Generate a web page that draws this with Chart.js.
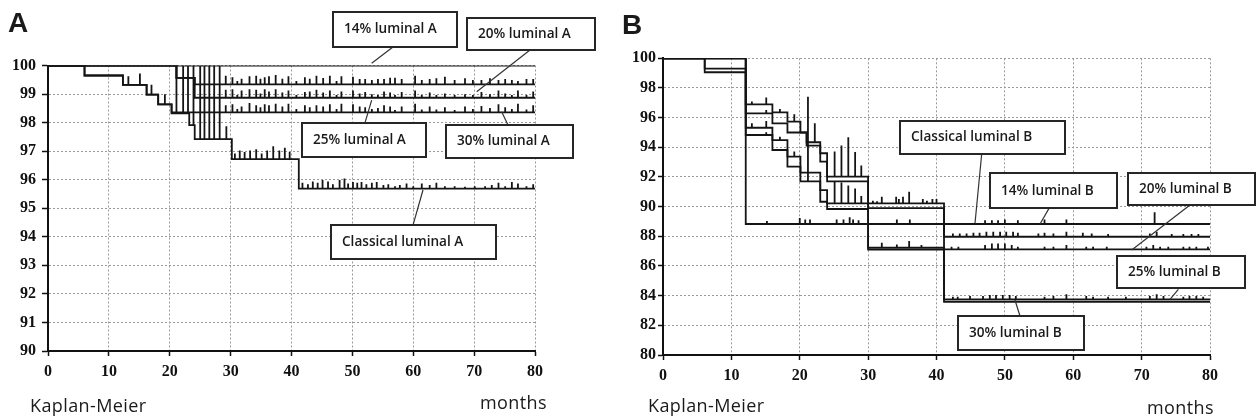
<!DOCTYPE html>
<html>
<head>
<meta charset="utf-8">
<script src="https://cdn.jsdelivr.net/npm/chart.js@4.4.1/dist/chart.umd.min.js"></script>
<style>
  html, body { margin: 0; padding: 0; background: #fff; }
  body { width: 1260px; height: 420px; position: relative; overflow: hidden; font-family: "Open Sans", sans-serif; }
  .panel { position: absolute; top: 0; height: 420px; }
  #wrapA { left: 0; width: 620px; }
  #wrapB { left: 620px; width: 640px; }
  .lbl { position: absolute; color: #1a1a1a; white-space: nowrap; }
  .big { font: bold 28px "Liberation Sans", Arial, sans-serif; line-height: 28px; }
  .foot { font-size: 18px; line-height: 18px; letter-spacing: 0.4px; }
</style>
</head>
<body>
<div class="panel" id="wrapA"><canvas id="chartA" width="620" height="420"></canvas></div>
<div class="panel" id="wrapB"><canvas id="chartB" width="640" height="420"></canvas></div>
<div class="lbl big" style="left:8px;top:9px">A</div>
<div class="lbl big" style="left:622px;top:11px">B</div>
<div class="lbl foot" style="left:30px;top:396px">Kaplan-Meier</div>
<div class="lbl foot" style="left:480px;top:393px">months</div>
<div class="lbl foot" style="left:648px;top:396px">Kaplan-Meier</div>
<div class="lbl foot" style="left:1147px;top:398px">months</div>
<script>
// axes
const monthTicks = [0, 10, 20, 30, 40, 50, 60, 70, 80];
const yTicksA = [90, 91, 92, 93, 94, 95, 96, 97, 98, 99, 100];
const yTicksB = [80, 82, 84, 86, 88, 90, 92, 94, 96, 98, 100];

// ---- panel A: luminal A ----
const seriesA = ["14% luminal A", "20% luminal A", "25% luminal A", "30% luminal A", "Classical luminal A"];
// drop times (months) and survival (%) after each drop
const a14Times = [], a14Surv = [];
const a20Times = [21.1, 24.1], a20Surv = [99.57, 99.34];
const a25Times = [21.1, 24.1], a25Surv = [99.57, 98.87];
const a30Times = [6.0, 12.3, 16.2, 18.1, 20.3], a30Surv = [99.65, 99.32, 98.98, 98.64, 98.36];
const aClTimes = [6.0, 12.3, 16.2, 18.1, 20.3, 23.2, 24.1, 30.2, 41.2];
const aClSurv = [99.65, 99.32, 98.98, 98.64, 98.32, 97.91, 97.42, 96.72, 95.69];

// censored cases (months) and tick heights (% units)
const aUpperCens = [29.2, 30.3, 31.1, 31.8, 33.1, 34.2, 34.9, 35.6, 36.3, 37.4, 38.5, 39.5, 40.8, 42.2, 43.0,
  44.1, 45.2, 46.3, 47.4, 48.2, 50.1, 51.2, 52.1, 53.2, 54.2, 55.2, 56.2, 57.0, 58.1, 60.3, 61.4, 62.7, 63.8,
  65.2, 66.8, 68.5, 69.8, 71.2, 72.6, 74.0, 75.1, 76.2, 77.2, 78.6, 79.7];
const a20H = [0.3, 0.25, 0.12, 0.2, 0.28, 0.3, 0.2, 0.25, 0.28, 0.33, 0.2, 0.28, 0.12, 0.25, 0.2, 0.3, 0.22,
  0.3, 0.12, 0.28, 0.27, 0.19, 0.19, 0.15, 0.19, 0.19, 0.23, 0.23, 0.19, 0.3, 0.15, 0.19, 0.21, 0.27, 0.15,
  0.21, 0.15, 0.15, 0.21, 0.15, 0.19, 0.15, 0.12, 0.19, 0.19];
const a25H = [0.28, 0.3, 0.1, 0.25, 0.3, 0.28, 0.15, 0.3, 0.22, 0.3, 0.18, 0.25, 0.1, 0.2, 0.22, 0.28, 0.18,
  0.25, 0.1, 0.22, 0.25, 0.15, 0.2, 0.12, 0.1, 0.22, 0.18, 0.1, 0.2, 0.25, 0.1, 0.18, 0.1, 0.15, 0.1, 0.12,
  0.1, 0.2, 0.12, 0.25, 0.15, 0.1, 0.25, 0.1, 0.22];
const a30H = [0.25, 0.28, 0.12, 0.2, 0.33, 0.25, 0.18, 0.28, 0.25, 0.3, 0.2, 0.3, 0.12, 0.25, 0.18, 0.25,
  0.2, 0.28, 0.12, 0.3, 0.28, 0.2, 0.18, 0.12, 0.15, 0.25, 0.2, 0.08, 0.2, 0.3, 0.1, 0.2, 0.1, 0.18, 0.08,
  0.2, 0.12, 0.22, 0.15, 0.28, 0.18, 0.12, 0.3, 0.1, 0.25];
const aClCens = [13.2, 15.1, 17.0, 19.2, 21.1, 22.2, 23.0, 23.9, 25.0, 25.7, 26.5, 27.3, 28.2, 29.3,
  30.7, 31.5, 32.3, 33.2, 34.2, 35.1, 36.0, 37.0, 38.0, 38.9, 39.7,
  41.8, 42.7, 43.5, 44.3, 45.1, 46.0, 46.8, 47.9, 48.7,
  49.3, 50.1, 50.8, 51.5, 52.3, 53.2, 54.0, 55.1, 55.9, 57.0, 57.8, 58.9, 60.0, 61.4, 62.7, 63.8, 65.2,
  66.8, 68.5, 70.1, 71.8, 72.9, 74.0, 75.1, 76.2, 77.2, 78.6, 79.7];
const aClH = [0.3, 0.4, 0.35, 0.35, 1.68, 1.68, 1.68, 2.09, 2.58, 2.58, 2.58, 2.58, 2.58, 0.45,
  0.2, 0.3, 0.25, 0.3, 0.35, 0.2, 0.3, 0.45, 0.3, 0.4, 0.25,
  0.2, 0.15, 0.25, 0.2, 0.3, 0.25, 0.15, 0.3, 0.35,
  0.18, 0.23, 0.2, 0.23, 0.15, 0.2, 0.23, 0.12, 0.15, 0.08, 0.12, 0.18, 0.08, 0.18, 0.12, 0.2, 0.08,
  0.08, 0.06, 0.08, 0.08, 0.12, 0.2, 0.08, 0.23, 0.18, 0.08, 0.15];

// ---- panel B: luminal B ----
const seriesB = ["14% luminal B", "20% luminal B", "25% luminal B", "30% luminal B", "Classical luminal B"];
const b14Times = [12.1, 16.0, 18.2, 20.1, 21.0, 23.0, 24.0, 30.0, 41.1];
const b14Surv = [96.9, 96.36, 95.73, 95.0, 94.34, 93.6, 92.02, 90.22, 87.97];
const b20Times = [12.1, 16.0, 18.2, 21.0, 23.0, 24.0, 30.0, 41.1];
const b20Surv = [96.29, 95.61, 95.0, 94.11, 93.03, 91.7, 89.9, 87.12];
const b25Times = [6.1, 12.1, 16.0, 18.2, 20.1, 23.0, 24.0, 30.0, 41.1];
const b25Surv = [99.3, 95.32, 94.49, 93.37, 92.3, 91.12, 90.22, 87.23, 83.75];
const b30Times = [6.1, 12.1, 16.0, 18.2, 20.1, 23.0, 24.0, 30.0, 41.1];
const b30Surv = [99.06, 94.83, 93.82, 92.7, 91.7, 90.33, 89.84, 87.1, 83.59];
const bClTimes = [12.1], bClSurv = [88.83];

const b14Cens = [13.0, 15.1, 17.1, 19.2, 22.2, 25.1, 26.1, 27.1, 28.1, 29.0,
  30.7, 31.3, 32.0, 34.1, 34.5, 35.1, 36.0, 38.0, 38.6, 39.4, 40.0,
  42.4, 43.4, 44.4, 45.4, 46.3, 47.3, 48.3, 49.3, 50.2, 51.2, 51.9, 54.9, 55.8, 57.1, 59.0, 61.4, 62.7,
  65.1, 71.2, 72.2, 74.4, 76.1, 77.3, 78.3];
const b14H = [0.18, 0.45, 0.22, 0.5, 1.28, 1.7, 2.1, 2.65, 1.66, 0.76,
  0.18, 0.15, 0.45, 0.45, 0.29, 0.45, 0.79, 0.29, 0.18, 0.29, 0.29,
  0.22, 0.22, 0.22, 0.27, 0.27, 0.34, 0.34, 0.34, 0.34, 0.34, 0.27, 0.22, 0.27, 0.22, 0.34, 0.27, 0.22,
  0.18, 0.22, 0.34, 0.18, 0.18, 0.18, 0.18];
const b20Cens = [15.1, 42.2, 43.2, 47.1, 48.1, 49.0, 50.0, 51.0, 51.9, 55.8, 57.1, 59.0, 61.9, 62.9, 64.9,
  70.7, 71.7, 72.7, 73.9, 76.1, 77.0, 78.0, 79.7];
const b20H = [0.22, 0.18, 0.18, 0.29, 0.4, 0.4, 0.4, 0.29, 0.18, 0.18, 0.18, 0.29, 0.18, 0.18, 0.18,
  0.18, 0.29, 0.18, 0.18, 0.18, 0.18, 0.18, 0.18];
const b25Cens = [13.0, 15.1, 17.1, 19.2, 25.1, 26.1, 27.1, 28.1, 29.0, 32.0, 34.2, 36.0, 37.8,
  42.4, 43.1, 44.9, 46.8, 47.8, 48.7, 49.7, 50.7, 51.6, 55.8, 57.1, 59.0, 61.9, 62.9, 65.1, 67.7,
  71.2, 72.2, 73.2, 76.1, 77.0, 78.0, 79.0];
const b25H = [0.3, 0.45, 0.22, 0.34, 1.46, 1.4, 1.2, 1.0, 0.5, 0.34, 0.22, 0.45, 0.18,
  0.18, 0.18, 0.22, 0.22, 0.29, 0.29, 0.29, 0.29, 0.22, 0.18, 0.22, 0.34, 0.22, 0.18, 0.18, 0.18,
  0.22, 0.34, 0.22, 0.18, 0.22, 0.22, 0.18];
const b30Cens = [15.1, 21.2];
const b30H = [0.18, 5.7];
const bClCens = [15.2, 20.0, 20.8, 21.5, 25.4, 26.4, 27.3, 27.8, 28.6, 34.2, 36.1,
  47.1, 48.1, 49.0, 50.0, 51.9, 55.8, 59.0, 71.9];
const bClH = [0.2, 0.4, 0.3, 0.3, 0.3, 0.3, 0.45, 0.3, 0.25, 0.3, 0.3,
  0.25, 0.25, 0.25, 0.3, 0.25, 0.3, 0.3, 0.8];

// step path with censor ticks drawn as small spikes
function kmPath(times, surv, cens, heights) {
  const events = [];
  times.forEach((t, i) => events.push({ t, kind: 0, v: surv[i] }));
  cens.forEach((t, i) => events.push({ t, kind: 1, h: heights[i] }));
  events.sort((a, b) => a.t - b.t || a.kind - b.kind);
  let level = 100;
  const pts = [{ x: 0, y: 100 }];
  events.forEach((e) => {
    if (e.kind === 0) {
      pts.push({ x: e.t, y: level }, { x: e.t, y: e.v });
      level = e.v;
    } else {
      pts.push({ x: e.t, y: level }, { x: e.t, y: level + e.h }, { x: e.t, y: level });
    }
  });
  pts.push({ x: 80, y: level });
  return pts;
}

const line = (label, data) => ({
  label, data,
  borderColor: "#141414", borderWidth: 1.8,
  pointRadius: 0, fill: false, tension: 0,
});

// callout boxes: centre, pointer start and tip in axis units; box size in px
const calloutsA = [
  { s: 0, x: 57.0, y: 101.26, w: 124, h: 35, fx: 56.67, fy: 100.65, tx: 53.17, ty: 100.08 },
  { s: 1, x: 79.34, y: 101.10, w: 128, h: 32, fx: 79.18, fy: 100.54, tx: 70.42, ty: 99.08 },
  { s: 2, x: 51.91, y: 97.39, w: 124, h: 34, fx: 52.07, fy: 97.99, tx: 53.17, ty: 98.79 },
  { s: 3, x: 75.81, y: 97.34, w: 127, h: 33, fx: 75.56, fy: 97.92, tx: 74.53, ty: 98.38 },
  { s: 4, x: 60.04, y: 93.82, w: 165, h: 34, fx: 59.96, fy: 94.41, tx: 61.6, ty: 95.64 },
];
const calloutsB = [
  { s: 4, x: 46.73, y: 94.66, w: 165, h: 33, fx: 46.61, fy: 93.55, tx: 45.63, ty: 88.88 },
  { s: 0, x: 57.09, y: 91.07, w: 127, h: 35, fx: 56.6, fy: 90.0, tx: 55.14, ty: 88.83 },
  { s: 1, x: 77.32, y: 91.2, w: 127, h: 32, fx: 77.07, fy: 90.11, tx: 68.55, ty: 87.08 },
  { s: 2, x: 75.73, y: 85.58, w: 128, h: 32, fx: 75.37, fy: 84.43, tx: 74.15, ty: 83.75 },
  { s: 3, x: 52.39, y: 81.48, w: 126, h: 34, fx: 52.21, fy: 82.63, tx: 51.48, ty: 83.71 },
];

const calloutPlugin = {
  id: "callouts",
  afterDatasetsDraw(chart, args, opts) {
    const { ctx } = chart;
    const sx = chart.scales.x, sy = chart.scales.y;
    ctx.save();
    ctx.font = '600 13.6px "Open Sans", sans-serif';
    ctx.textBaseline = "middle";
    opts.items.forEach((c) => {
      const cx = sx.getPixelForValue(c.x), cy = sy.getPixelForValue(c.y);
      ctx.strokeStyle = "#333";
      ctx.lineWidth = 1.2;
      ctx.beginPath();
      ctx.moveTo(sx.getPixelForValue(c.fx), sy.getPixelForValue(c.fy));
      ctx.lineTo(sx.getPixelForValue(c.tx), sy.getPixelForValue(c.ty));
      ctx.stroke();
      const l = Math.round(cx - c.w / 2), t = Math.round(cy - c.h / 2);
      ctx.fillStyle = "#fff";
      ctx.fillRect(l, t, c.w, c.h);
      ctx.lineWidth = 2;
      ctx.strokeStyle = "#262626";
      ctx.strokeRect(l, t, c.w, c.h);
      ctx.fillStyle = "#1a1a1a";
      ctx.textAlign = "left";
      ctx.fillText(opts.names[c.s], l + 11, cy);
    });
    ctx.restore();
  },
};

function makeChart(id, cfg) {
  const tickFont = { family: '"Liberation Serif", "Times New Roman", serif', size: 16, weight: "bold" };
  const gridBase = { color: "#9a9a9a", lineWidth: 1, tickColor: "#111", tickWidth: 1.5 };
  const border = { display: true, color: "#111", width: 2, dash: [2, 2] };
  return new Chart(document.getElementById(id), {
    type: "line",
    data: { datasets: cfg.datasets },
    plugins: [calloutPlugin],
    options: {
      responsive: false,
      animation: false,
      layout: { padding: cfg.padding },
      plugins: {
        legend: { display: false },
        tooltip: { enabled: false },
        callouts: { items: cfg.callouts, names: cfg.names },
      },
      scales: {
        x: {
          type: "linear", min: 0, max: 80,
          afterBuildTicks: (s) => { s.ticks = monthTicks.map((v) => ({ value: v })); },
          afterFit: (s) => { s.height = cfg.xHeight; },
          grid: { ...gridBase, tickLength: 5 },
          border,
          ticks: { color: "#111", font: tickFont, padding: 6, maxRotation: 0, autoSkip: false },
        },
        y: {
          type: "linear", min: cfg.yTicks[0], max: cfg.yTicks[cfg.yTicks.length - 1],
          afterBuildTicks: (s) => { s.ticks = cfg.yTicks.map((v) => ({ value: v })); },
          afterFit: (s) => { s.width = cfg.yWidth; },
          grid: { ...gridBase, tickLength: cfg.yTickLen },
          border,
          ticks: { color: "#111", font: tickFont, padding: cfg.yPad, autoSkip: false },
        },
      },
    },
  });
}

makeChart("chartA", {
  names: seriesA,
  yTicks: yTicksA,
  padding: { top: 65.5, right: 85, left: 0, bottom: 0 },
  xHeight: 69, yWidth: 48, yTickLen: 6, yPad: 6,
  callouts: calloutsA,
  datasets: [
    line(seriesA[0], kmPath(a14Times, a14Surv, [], [])),
    line(seriesA[1], kmPath(a20Times, a20Surv, aUpperCens, a20H)),
    line(seriesA[2], kmPath(a25Times, a25Surv, aUpperCens, a25H)),
    line(seriesA[3], kmPath(a30Times, a30Surv, aUpperCens, a30H)),
    line(seriesA[4], kmPath(aClTimes, aClSurv, aClCens, aClH)),
  ],
});

makeChart("chartB", {
  names: seriesB,
  yTicks: yTicksB,
  padding: { top: 58.3, right: 50, left: 0, bottom: 0 },
  xHeight: 65, yWidth: 43, yTickLen: 5, yPad: 2,
  callouts: calloutsB,
  datasets: [
    line(seriesB[0], kmPath(b14Times, b14Surv, b14Cens, b14H)),
    line(seriesB[1], kmPath(b20Times, b20Surv, b20Cens, b20H)),
    line(seriesB[2], kmPath(b25Times, b25Surv, b25Cens, b25H)),
    line(seriesB[3], kmPath(b30Times, b30Surv, b30Cens, b30H)),
    line(seriesB[4], kmPath(bClTimes, bClSurv, bClCens, bClH)),
  ],
});
</script>
</body>
</html>
